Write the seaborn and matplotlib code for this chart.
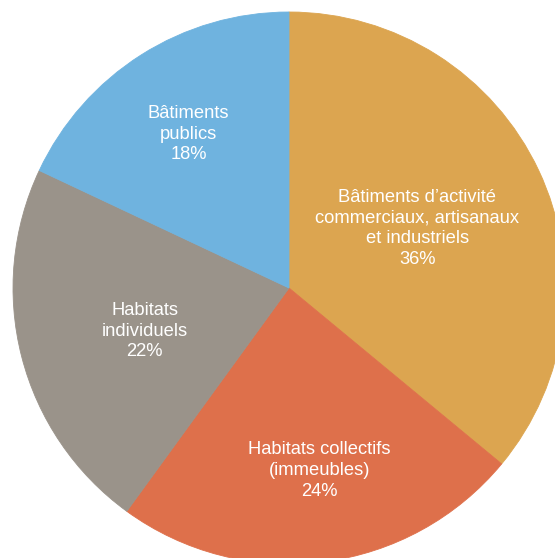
import numpy as np
import matplotlib
matplotlib.use("Agg")
import matplotlib.pyplot as plt
import seaborn as sns

# Share of each building category (clockwise from 12 o'clock)
categories = [
    "Bâtiments d\u2019activité\ncommerciaux, artisanaux\net industriels",
    "Habitats collectifs\n(immeubles)",
    "Habitats\nindividuels",
    "Bâtiments\npublics",
]
shares = [36, 24, 22, 18]
colors = ["#DCA550", "#DE704B", "#9A938A", "#6FB3DF"]

# Label placement: distance from centre (in radii) and angular nudge from the wedge middle (deg)
label_radius = [0.512, 0.670, 0.546, 0.666]
label_nudge = [-0.3, 2.3, 2.2, 0.7]

sns.set_theme(style="white")
plt.rcParams["font.family"] = ["Liberation Sans", "DejaVu Sans"]

W, H = 555, 558
fig = plt.figure(figsize=(W / 100, H / 100), dpi=100)
ax = fig.add_axes([0, 0, 1, 1])

wedges, _ = ax.pie(
    shares,
    colors=colors,
    startangle=90,
    counterclock=False,
    radius=1.0,
    center=(0, 0),
    wedgeprops=dict(linewidth=0.6, antialiased=True),
)
for w, c in zip(wedges, colors):
    w.set_edgecolor(c)

for w, lab, val, r, nd in zip(wedges, categories, shares, label_radius, label_nudge):
    mid = np.deg2rad((w.theta1 + w.theta2) / 2 + nd)
    ax.text(r * np.cos(mid), r * np.sin(mid), f"{lab}\n{val}%",
            ha="center", va="center", color="white", fontsize=13.2,
            linespacing=1.3)

# Pie centre sits at pixel (289, 288) with a 276 px radius; the disc runs off the bottom/right edges
cx, cy, rad = 289, 288, 276
ax.set_xlim(-cx / rad, (W - cx) / rad)
ax.set_ylim(-(H - cy) / rad, cy / rad)
ax.set_aspect("auto")
ax.axis("off")

fig.savefig("out.png", dpi=100, facecolor="white")
